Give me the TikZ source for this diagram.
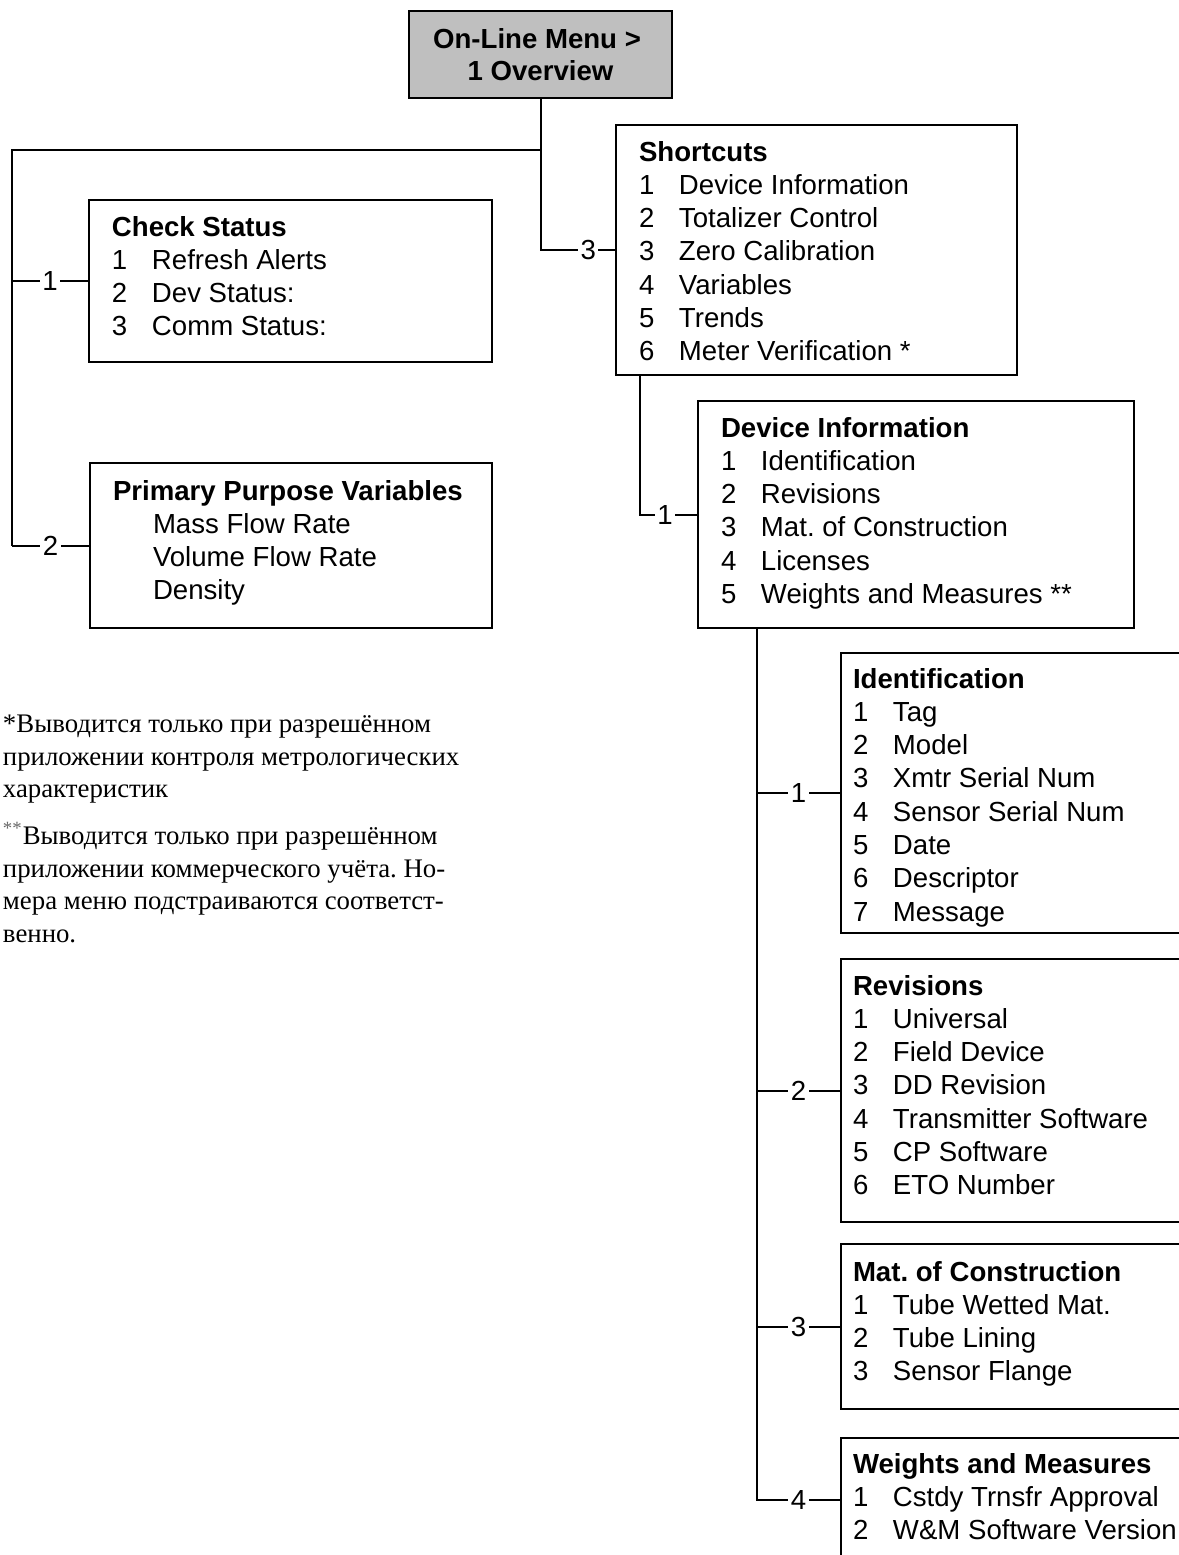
\documentclass[tikz,border=0pt]{standalone}
\usepackage{fontspec}
\setmainfont{Liberation Serif}
\setsansfont{Liberation Sans}
\usetikzlibrary{calc}

% menu line: number column + text
\newcommand{\itm}[2]{\makebox[20pt][l]{#1}#2}

\tikzset{
  menubox/.style={draw, line width=1pt, anchor=north west, inner sep=0pt},
  menutext/.style={anchor=north west, inner sep=0pt, align=left,
    font=\sffamily\fontsize{13.8}{16.65}\selectfont},
  numlabel/.style={fill=white, inner sep=1.2pt,
    font=\sffamily\fontsize{13.8}{16.65}\selectfont},
  notetext/.style={anchor=north west, inner sep=0pt, align=left,
    font=\rmfamily\fontsize{13.4}{16.25}\selectfont}
}

\begin{document}
\frenchspacing
\begin{tikzpicture}[x=0.5pt, y=-0.5pt, line width=1pt]
  \useasboundingbox (0,0) rectangle (1179,1555);
  \clip (0,0) rectangle (1179,1555);

  % Hoofdmenu
  \node[menubox, fill=black!25, minimum width=131.5pt, minimum height=43.5pt,
    align=center, font=\sffamily\bfseries\fontsize{13.8}{16}\selectfont]
    (ovr) at (408,10) {On-Line Menu >\hspace*{3.5pt}\\1 Overview};

  % Linkerkolom
  \node[menubox, minimum width=201.5pt, minimum height=81pt] (chk) at (88,199) {};
  \node[menutext] at ($(chk.north west)+(23,16)$)
    {\textbf{Check Status}\\\itm{1}{Refresh Alerts}\\\itm{2}{Dev Status:}\\\itm{3}{Comm Status:}};

  \node[menubox, minimum width=201pt, minimum height=82.5pt] (ppv) at (89,462) {};
  \node[menutext] at ($(ppv.north west)+(23,17)$)
    {\textbf{Primary Purpose Variables}\\\itm{}{Mass Flow Rate}\\\itm{}{Volume Flow Rate}\\\itm{}{Density}};

  % Shortcuts
  \node[menubox, minimum width=200.5pt, minimum height=125pt] (sht) at (615,124) {};
  \node[menutext] at ($(sht.north west)+(23,16)$)
    {\textbf{Shortcuts}\\\itm{1}{Device Information}\\\itm{2}{Totalizer Control}\\
     \itm{3}{Zero Calibration}\\\itm{4}{Variables}\\\itm{5}{Trends}\\\itm{6}{Meter Verification *}};

  % Device Information
  \node[menubox, minimum width=218pt, minimum height=113.5pt] (dev) at (697,400) {};
  \node[menutext] at ($(dev.north west)+(23,16)$)
    {\textbf{Device Information}\\\itm{1}{Identification}\\\itm{2}{Revisions}\\
     \itm{3}{Mat. of Construction}\\\itm{4}{Licenses}\\\itm{5}{Weights and Measures **}};

  % Rechterkolom
  \node[menubox, minimum width=180pt, minimum height=140pt] (idn) at (840,652) {};
  \node[menutext] at ($(idn.north west)+(12,15)$)
    {\textbf{Identification}\\\itm{1}{Tag}\\\itm{2}{Model}\\\itm{3}{Xmtr Serial Num}\\
     \itm{4}{Sensor Serial Num}\\\itm{5}{Date}\\\itm{6}{Descriptor}\\\itm{7}{Message}};

  \node[menubox, minimum width=180pt, minimum height=131.5pt] (rev) at (840,958) {};
  \node[menutext] at ($(rev.north west)+(12,16)$)
    {\textbf{Revisions}\\\itm{1}{Universal}\\\itm{2}{Field Device}\\\itm{3}{DD Revision}\\
     \itm{4}{Transmitter Software}\\\itm{5}{CP Software}\\\itm{6}{ETO Number}};

  \node[menubox, minimum width=180pt, minimum height=82.5pt] (mat) at (840,1243) {};
  \node[menutext] at ($(mat.north west)+(12,17)$)
    {\textbf{Mat. of Construction}\\\itm{1}{Tube Wetted Mat.}\\\itm{2}{Tube Lining}\\\itm{3}{Sensor Flange}};

  \node[menubox, minimum width=180pt, minimum height=62pt] (wam) at (840,1437) {};
  \node[menutext] at ($(wam.north west)+(12,15)$)
    {\textbf{Weights and Measures}\\\itm{1}{Cstdy Trnsfr Approval}\\\itm{2}{W\&M Software Version}};

  % Verbindingen
  \coordinate (lt) at (12,150);
  \draw (ovr.south) -- (ovr.south |- lt) -- (lt) -- (lt |- ppv.west);
  \draw (lt |- chk.west) -- node[numlabel]{1} (chk.west);
  \draw (lt |- ppv.west) -- node[numlabel]{2} (ppv.west);
  \draw (ovr.south |- lt) |- node[numlabel, pos=0.82]{3} (sht.west);

  \coordinate (s1) at ($(sht.south west)+(25,0)$);
  \draw (s1) |- node[numlabel, pos=0.72]{1} (dev.west);

  \coordinate (d1) at ($(dev.south west)+(60,0)$);
  \draw (d1) |- node[numlabel, pos=0.75]{4} (wam.west);
  \foreach \b/\n in {idn/1, rev/2, mat/3}
    \draw (d1 |- \b.west) -- node[numlabel]{\n} (\b.west);

  % Voetnoten
  \node[notetext] (fn1) at (2,714)
    {*Выводится только при разрешённом\\приложении контроля метрологических\\характеристик};
  \node[notetext] (fn2) at (2,821)
    {\textsuperscript{\color{black!60}**}Выводится только при разрешённом\\приложении коммерческого учёта. Но-\\
     мера меню подстраиваются соответст-\\венно.};
\end{tikzpicture}
\end{document}
